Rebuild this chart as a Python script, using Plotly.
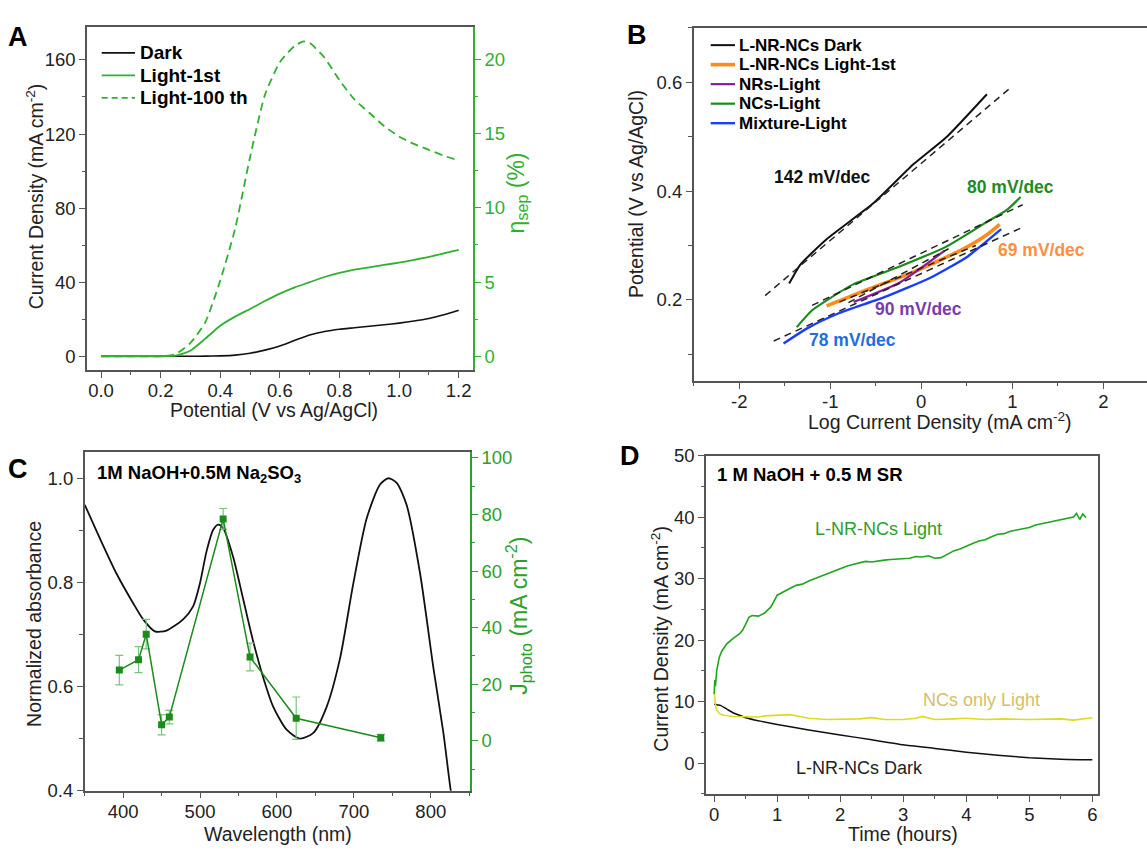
import plotly.graph_objects as go

W, H = 1147, 855
FONT = "Liberation Sans, Arial, Helvetica, sans-serif"
AX = "#555555"
TXT = "#222222"

# ---------------- Panel A data ----------------
a_potential = [0.00, 0.05, 0.10, 0.15, 0.20, 0.25, 0.30, 0.35, 0.40, 0.45, 0.50, 0.55,
               0.60, 0.65, 0.70, 0.75, 0.80, 0.85, 0.90, 0.95, 1.00, 1.05, 1.10, 1.15, 1.20]
a_dark = [0, 0, 0, 0, 0, 0, 0, 0.05, 0.2, 0.6, 1.6, 3.3,
          5.6, 8.6, 11.5, 13.4, 14.6, 15.4, 16.2, 17.0, 17.9, 19.0, 20.4, 22.4, 24.9]
a_light1 = [0, 0, 0, 0, 0, 0.3, 3.0, 9.5, 16.5, 21.4, 25.5, 29.8,
            33.8, 37.2, 40.0, 42.8, 45.0, 46.8, 48.0, 49.3, 50.6, 52.0, 53.6, 55.5, 57.5]
a_eta_potential = [0.00, 0.10, 0.20, 0.25, 0.30, 0.35, 0.40, 0.45, 0.50, 0.55, 0.60, 0.65,
                   0.68, 0.70, 0.75, 0.80, 0.85, 0.90, 0.95, 1.00, 1.05, 1.10, 1.15, 1.20]
a_eta = [0, 0, 0, 0.15, 0.9, 2.3, 5.1, 8.6, 13.4, 17.6, 19.8, 20.9,
         21.2, 21.1, 20.1, 18.6, 17.3, 16.4, 15.5, 14.8, 14.3, 13.9, 13.5, 13.2]
a_legend = ["Dark", "Light-1st", "Light-100 th"]

# ---------------- Panel B data ----------------
b_dark_x = [-1.451, -1.330, -1.037, -0.524, -0.084, 0.282, 0.721]
b_dark_y = [0.230, 0.2645, 0.312, 0.378, 0.4496, 0.500, 0.578]
b_orange_x = [-1.04, -0.574, -0.068, 0.439, 0.709, 0.861]
b_orange_y = [0.189, 0.220, 0.2526, 0.2915, 0.3183, 0.339]
b_purple_x = [-0.743, -0.236, 0.253]
b_purple_y = [0.196, 0.232, 0.290]
b_green_x = [-1.368, -1.199, -1.013, -0.743, -0.236, 0.27, 0.709, 0.945, 1.091]
b_green_y = [0.150, 0.181, 0.202, 0.229, 0.2616, 0.2975, 0.342, 0.366, 0.389]
b_blue_x = [-1.513, -1.249, -0.912, -0.405, 0.101, 0.507, 0.878]
b_blue_y = [0.120, 0.1482, 0.175, 0.205, 0.2408, 0.2795, 0.330]
# dashed Tafel fit lines (end points)
b_fit_x = [[-1.715, 0.96], [-1.199, 1.114], [-1.621, 1.131], [-0.90, 0.60], [-0.80, 0.30]]
b_fit_y = [[0.208, 0.587], [0.190, 0.375], [0.1244, 0.335], [0.196, 0.300], [0.195, 0.294]]
b_legend = ["L-NR-NCs Dark", "L-NR-NCs Light-1st", "NRs-Light", "NCs-Light", "Mixture-Light"]
b_slope_text = ["142 mV/dec", "80 mV/dec", "69 mV/dec", "90 mV/dec", "78 mV/dec"]
b_slope_x = [-1.084, 0.98, 1.32, -0.028, -0.76]
b_slope_y = [0.4257, 0.408, 0.291, 0.184, 0.127]
b_ticks = [-2, -1, 0, 1, 2]
b_ticktext = ["-2", "-1", "0", "1", "2"]

# ---------------- Panel C data ----------------
c_wl = [350.1, 369.6, 391.3, 413, 426, 441.2, 456.4, 478, 491, 499.8, 508.5, 517.1, 523.6,
        530.1, 543.2, 556.2, 569.2, 582.2, 595.2, 612.6, 629.9, 647.3, 664.6, 682, 699.3,
        716.7, 734, 744.9, 755.7, 768.7, 786.1, 803.4, 816.4, 826, 832]
c_abs = [0.949, 0.885, 0.817, 0.760, 0.729, 0.706, 0.7075, 0.729, 0.754, 0.798, 0.860, 0.901,
         0.911, 0.904, 0.848, 0.767, 0.686, 0.617, 0.561, 0.517, 0.500, 0.511, 0.561, 0.654,
         0.798, 0.923, 0.988, 1.0, 0.991, 0.948, 0.817, 0.636, 0.511, 0.40, 0.35]
c_jwl = [395, 420, 430, 450, 460, 530, 565, 625, 735]
c_jphoto = [25.0, 28.7, 37.7, 5.7, 8.4, 78.4, 29.6, 8.0, 1.1]
c_jerr = [5.2, 4.6, 5.2, 3.6, 2.4, 3.7, 4.9, 7.5, 1.2]

# ---------------- Panel D data ----------------
d_t_light = [0.00, 0.01, 0.02, 0.04, 0.08, 0.12, 0.2, 0.3, 0.4, 0.45, 0.5, 0.55, 0.6, 0.7, 0.8,
             0.9, 1.0, 1.1, 1.2, 1.3, 1.4, 1.5, 1.6, 1.7, 1.8, 1.9, 2.0, 2.1, 2.2, 2.3, 2.4,
             2.5, 2.6, 2.7, 2.8, 2.9, 3.0, 3.1, 3.2, 3.3, 3.4, 3.5, 3.6, 3.7, 3.8, 3.9, 4.0,
             4.1, 4.2, 4.3, 4.4, 4.5, 4.6, 4.7, 4.8, 4.9, 5.0, 5.1, 5.2, 5.3, 5.4, 5.5, 5.6,
             5.7, 5.75, 5.8, 5.85, 5.9]
d_j_light = [11.3, 13.5, 12.5, 15.0, 17.2, 18.2, 19.4, 20.3, 21.0, 21.6, 22.6, 23.7, 24.0, 23.9,
             24.4, 25.4, 27.3, 27.9, 28.4, 28.9, 29.1, 29.6, 30.0, 30.4, 30.9, 31.3, 31.7, 32.0,
             32.3, 32.6, 32.8, 32.7, 32.9, 33.0, 33.1, 33.2, 33.2, 33.3, 33.6, 33.5, 33.7, 33.3,
             33.4, 34.0, 34.5, 34.8, 35.3, 35.7, 36.1, 36.3, 36.8, 37.2, 37.3, 37.7, 37.9, 38.1,
             38.3, 38.7, 38.9, 39.1, 39.3, 39.5, 39.7, 40.0, 40.6, 39.6, 40.5, 39.9]
d_t_ncs = [0.00, 0.01, 0.03, 0.08, 0.15, 0.3, 0.5, 0.7, 0.8, 1.0, 1.2, 1.3, 1.5, 1.8, 2.0, 2.3,
           2.5, 2.7, 3.0, 3.2, 3.3, 3.5, 3.8, 4.0, 4.3, 4.6, 5.0, 5.3, 5.5, 5.7, 5.9, 6.0]
d_j_ncs = [11.5, 10.2, 8.8, 8.1, 7.8, 7.6, 7.6, 7.5, 7.7, 7.8, 7.9, 7.7, 7.3, 7.1, 7.1, 7.2,
           7.4, 7.1, 7.1, 7.3, 7.6, 7.1, 7.2, 7.3, 7.1, 7.2, 7.1, 7.2, 7.2, 7.0, 7.3, 7.4]
d_t_dark = [0.0, 0.1, 0.2, 0.3, 0.4, 0.5, 0.75, 1.0, 1.5, 2.0, 2.5, 3.0, 3.5, 4.0, 4.5, 5.0, 5.5, 6.0]
d_j_dark = [9.6, 9.4, 8.8, 8.2, 7.8, 7.4, 6.8, 6.3, 5.4, 4.6, 3.8, 3.0, 2.4, 1.8, 1.3, 0.9, 0.65, 0.55]

# ---------------- colours ----------------
GA = "#2fb12f"      # panel A green
B_COL = ["#111111", "#ff8c1a", "#8b1a9b", "#1a8c1a", "#1a3cff"]
B_TXT = ["#111111", "#1e8c1e", "#ff8f3f", "#7a3db0", "#1e6ee0"]
GC = "#1a8c1a"
GC_AX = "#2ca02c"
GD = "#1fa51f"
YD = "#dcdc1e"


def px(x):
    return x / W


def py(y):
    return 1 - y / H


fig = go.Figure()

# Panel A
fig.add_trace(go.Scatter(x=a_potential, y=a_dark, xaxis="x", yaxis="y", mode="lines",
                         line=dict(color="#111111", width=1.6, shape="spline", smoothing=0.6),
                         name=a_legend[0], showlegend=False))
fig.add_trace(go.Scatter(x=a_potential, y=a_light1, xaxis="x", yaxis="y", mode="lines",
                         line=dict(color=GA, width=1.8, shape="spline", smoothing=0.6),
                         name=a_legend[1], showlegend=False))
fig.add_trace(go.Scatter(x=a_eta_potential, y=a_eta, xaxis="x", yaxis="y2", mode="lines",
                         line=dict(color=GA, width=1.8, dash="8px,5px", shape="spline", smoothing=0.6),
                         name=a_legend[2], showlegend=False))

# Panel B
b_xs = [b_dark_x, b_orange_x, b_purple_x, b_green_x, b_blue_x]
b_ys = [b_dark_y, b_orange_y, b_purple_y, b_green_y, b_blue_y]
b_w = [2.0, 3.6, 2.2, 2.2, 2.4]
for i in range(5):
    fig.add_trace(go.Scatter(x=b_xs[i], y=b_ys[i], xaxis="x2", yaxis="y3", mode="lines",
                             line=dict(color=B_COL[i], width=b_w[i], shape="spline", smoothing=0.5),
                             name=b_legend[i], showlegend=False))
for fx, fy in zip(b_fit_x, b_fit_y):
    fig.add_trace(go.Scatter(x=fx, y=fy, xaxis="x2", yaxis="y3", mode="lines",
                             line=dict(color="#222222", width=1.5, dash="7px,5px"),
                             showlegend=False, hoverinfo="skip"))

# Panel C
fig.add_trace(go.Scatter(x=c_wl, y=c_abs, xaxis="x3", yaxis="y4", mode="lines",
                         line=dict(color="#111111", width=1.8, shape="spline", smoothing=0.7),
                         name="Normalized absorbance", showlegend=False))
fig.add_trace(go.Scatter(x=c_jwl, y=c_jphoto, xaxis="x3", yaxis="y5", mode="lines+markers",
                         line=dict(color=GC, width=1.5),
                         marker=dict(symbol="square", size=7, color=GC),
                         error_y=dict(type="data", array=c_jerr, color="#7cc47c", thickness=1.2, width=4),
                         name="J photo", showlegend=False))

# Panel D
fig.add_trace(go.Scatter(x=d_t_dark, y=d_j_dark, xaxis="x4", yaxis="y6", mode="lines",
                         line=dict(color="#111111", width=1.5, shape="spline", smoothing=0.5),
                         name="L-NR-NCs Dark", showlegend=False))
fig.add_trace(go.Scatter(x=d_t_ncs, y=d_j_ncs, xaxis="x4", yaxis="y6", mode="lines",
                         line=dict(color=YD, width=1.6),
                         name="NCs only Light", showlegend=False))
fig.add_trace(go.Scatter(x=d_t_light, y=d_j_light, xaxis="x4", yaxis="y6", mode="lines",
                         line=dict(color=GD, width=1.6),
                         name="L-NR-NCs Light", showlegend=False))


def axis(**kw):
    d = dict(showline=True, linecolor=AX, linewidth=1.5, ticks="outside", ticklen=6,
             tickwidth=1.3, tickcolor=AX, showgrid=False, zeroline=False,
             tickfont=dict(family=FONT, size=18.5, color=TXT))
    d.update(kw)
    return d


def minor(dt, color=AX):
    return dict(dtick=dt, ticks="outside", ticklen=3.5, tickwidth=1.2, tickcolor=color, showgrid=False)


XSO = -3  # pull x tick labels slightly towards the axis

fig.update_layout(
    width=W, height=H, autosize=False,
    margin=dict(l=0, r=0, t=0, b=0),
    paper_bgcolor="white", plot_bgcolor="white",
    font=dict(family=FONT, color=TXT),
    showlegend=False,
    # Panel A
    xaxis=axis(domain=[px(87), px(473)], anchor="y", range=[-0.047, 1.248], dtick=0.2,
               tickformat=".1f", minor=minor(0.1), mirror=True, ticklabelstandoff=XSO),
    yaxis=axis(domain=[py(368), py(16)], anchor="x", range=[-7.4, 178], dtick=40, minor=minor(20)),
    yaxis2=axis(overlaying="y", anchor="x", side="right", range=[-0.92, 22.2], dtick=5,
                linecolor=GA, tickcolor=GA, tickfont=dict(family=FONT, size=18.5, color=GA),
                minor=minor(2.5, GA)),
    # Panel B
    xaxis2=axis(domain=[px(693.7), 1.0], anchor="y3", range=[-2.5, 2.48],
                tickvals=b_ticks, ticktext=b_ticktext, ticklabelstandoff=XSO,
                minor=minor(0.5), mirror=True, ticklabeloverflow="allow"),
    yaxis3=axis(domain=[py(379.3), py(17.3)], anchor="x2", range=[0.051, 0.70], dtick=0.2,
                tick0=0, tickformat=".1f", minor=minor(0.1)),
    # Panel C
    xaxis3=axis(domain=[px(84.7), px(470)], anchor="y4", range=[350, 851], dtick=100,
                minor=minor(50), mirror=True, ticklabelstandoff=XSO),
    yaxis4=axis(domain=[py(799.3), py(452.3)], anchor="x3", range=[0.4, 1.05], dtick=0.2,
                tick0=0.4, tickformat=".1f", minor=minor(0.1)),
    yaxis5=axis(overlaying="y4", anchor="x3", side="right", range=[-17.6, 102], dtick=20,
                linecolor=GC_AX, tickcolor=GC_AX, tickfont=dict(family=FONT, size=18.5, color=GC_AX),
                minor=minor(10, GC_AX)),
    # Panel D
    xaxis4=axis(domain=[px(706), px(1098)], anchor="y6", range=[-0.13, 6.09], dtick=1,
                minor=minor(0.5), mirror=True, ticklabelstandoff=XSO),
    yaxis6=axis(domain=[py(802.7), py(455.7)], anchor="x4", range=[-5, 50], dtick=10,
                minor=minor(5), mirror=True),
)

anns = []


def ann(text, x, y, size=19, color=TXT, angle=0, xanchor="center", yanchor="middle",
        xref="paper", yref="paper", convert=True):
    anns.append(dict(text=text, x=px(x) if convert else x, y=py(y) if convert else y,
                     xref=xref, yref=yref, showarrow=False, textangle=angle,
                     font=dict(family=FONT, size=size, color=color),
                     xanchor=xanchor, yanchor=yanchor))


# panel letters
ann("<b>A</b>", 18.3, 26.7, size=27, color="black")
ann("<b>B</b>", 637, 25, size=27, color="black")
ann("<b>C</b>", 18.3, 470, size=27, color="black")
ann("<b>D</b>", 630, 456.7, size=27, color="black")

# axis titles
ann("Current Density (mA cm<sup>-2</sup>)", 35, 190, size=19.5, angle=-90)
ann("η<sub>sep</sub> (%)", 517, 187, size=23, angle=-90, color=GA)
ann("Potential (V vs Ag/AgCl)", 274, 409, size=19.5)
ann("Potential (V vs Ag/AgCl)", 636.7, 188, size=19.5, angle=-90)
ann("Log Current Density (mA cm<sup>-2</sup>)", 940, 420, size=19.5)
ann("Normalized absorbance", 33.3, 628, size=19.5, angle=-90)
ann("J<sub>photo</sub> (mA cm<sup>-2</sup>)", 518, 620, size=23, angle=-90, color=GC_AX)
ann("Wavelength (nm)", 278, 844, size=19.5)
ann("Current Density (mA cm<sup>-2</sup>)", 660, 643.5, size=19.5, angle=-90)
ann("Time (hours)", 903, 844, size=19.5)

# in-panel labels
ann("<b>1M NaOH+0.5M Na<sub>2</sub>SO<sub>3</sub></b>", 95, 475, size=18.5, color="black", xanchor="left")
ann("<b>1 M NaOH + 0.5 M SR</b>", 715, 475, size=18.5, color="black", xanchor="left")
for t, x, y, c in zip(b_slope_text, b_slope_x, b_slope_y, B_TXT):
    ann("<b>" + t + "</b>", x, y, size=17.5, color=c, xref="x2", yref="y3", convert=False)
ann("L-NR-NCs Light", 2.60, 38.1, size=18, color="#2ca02c", xref="x4", yref="y6", convert=False)
ann("NCs only Light", 4.24, 10.3, size=18, color="#d4bf6a", xref="x4", yref="y6", convert=False)
ann("L-NR-NCs Dark", 2.31, -0.7, size=18, color="#222222", xref="x4", yref="y6", convert=False)

# legends (drawn manually)
shapes = []
a_leg_col = ["#111111", GA, GA]
a_leg_dash = ["solid", "solid", "6px,4px"]
for i, lab in enumerate(a_legend):
    yy = 43 + 23 * i
    shapes.append(dict(type="line", xref="paper", yref="paper", x0=px(101.7), x1=px(135),
                       y0=py(yy), y1=py(yy), line=dict(color=a_leg_col[i], width=1.8, dash=a_leg_dash[i])))
    ann("<b>" + lab + "</b>", 138.3, yy, size=19, color="black", xanchor="left")
for i, lab in enumerate(b_legend):
    yy = 35 + 20 * i
    shapes.append(dict(type="line", xref="paper", yref="paper", x0=px(710.7), x1=px(735),
                       y0=py(yy), y1=py(yy), line=dict(color=B_COL[i], width=b_w[i])))
    ann("<b>" + lab + "</b>", 736.7, yy, size=17, color="black", xanchor="left")

fig.update_layout(annotations=anns, shapes=shapes)

fig.write_html("out.html", config={"displayModeBar": False},
               post_script="document.body.style.margin='0';document.body.style.overflow='hidden';")
